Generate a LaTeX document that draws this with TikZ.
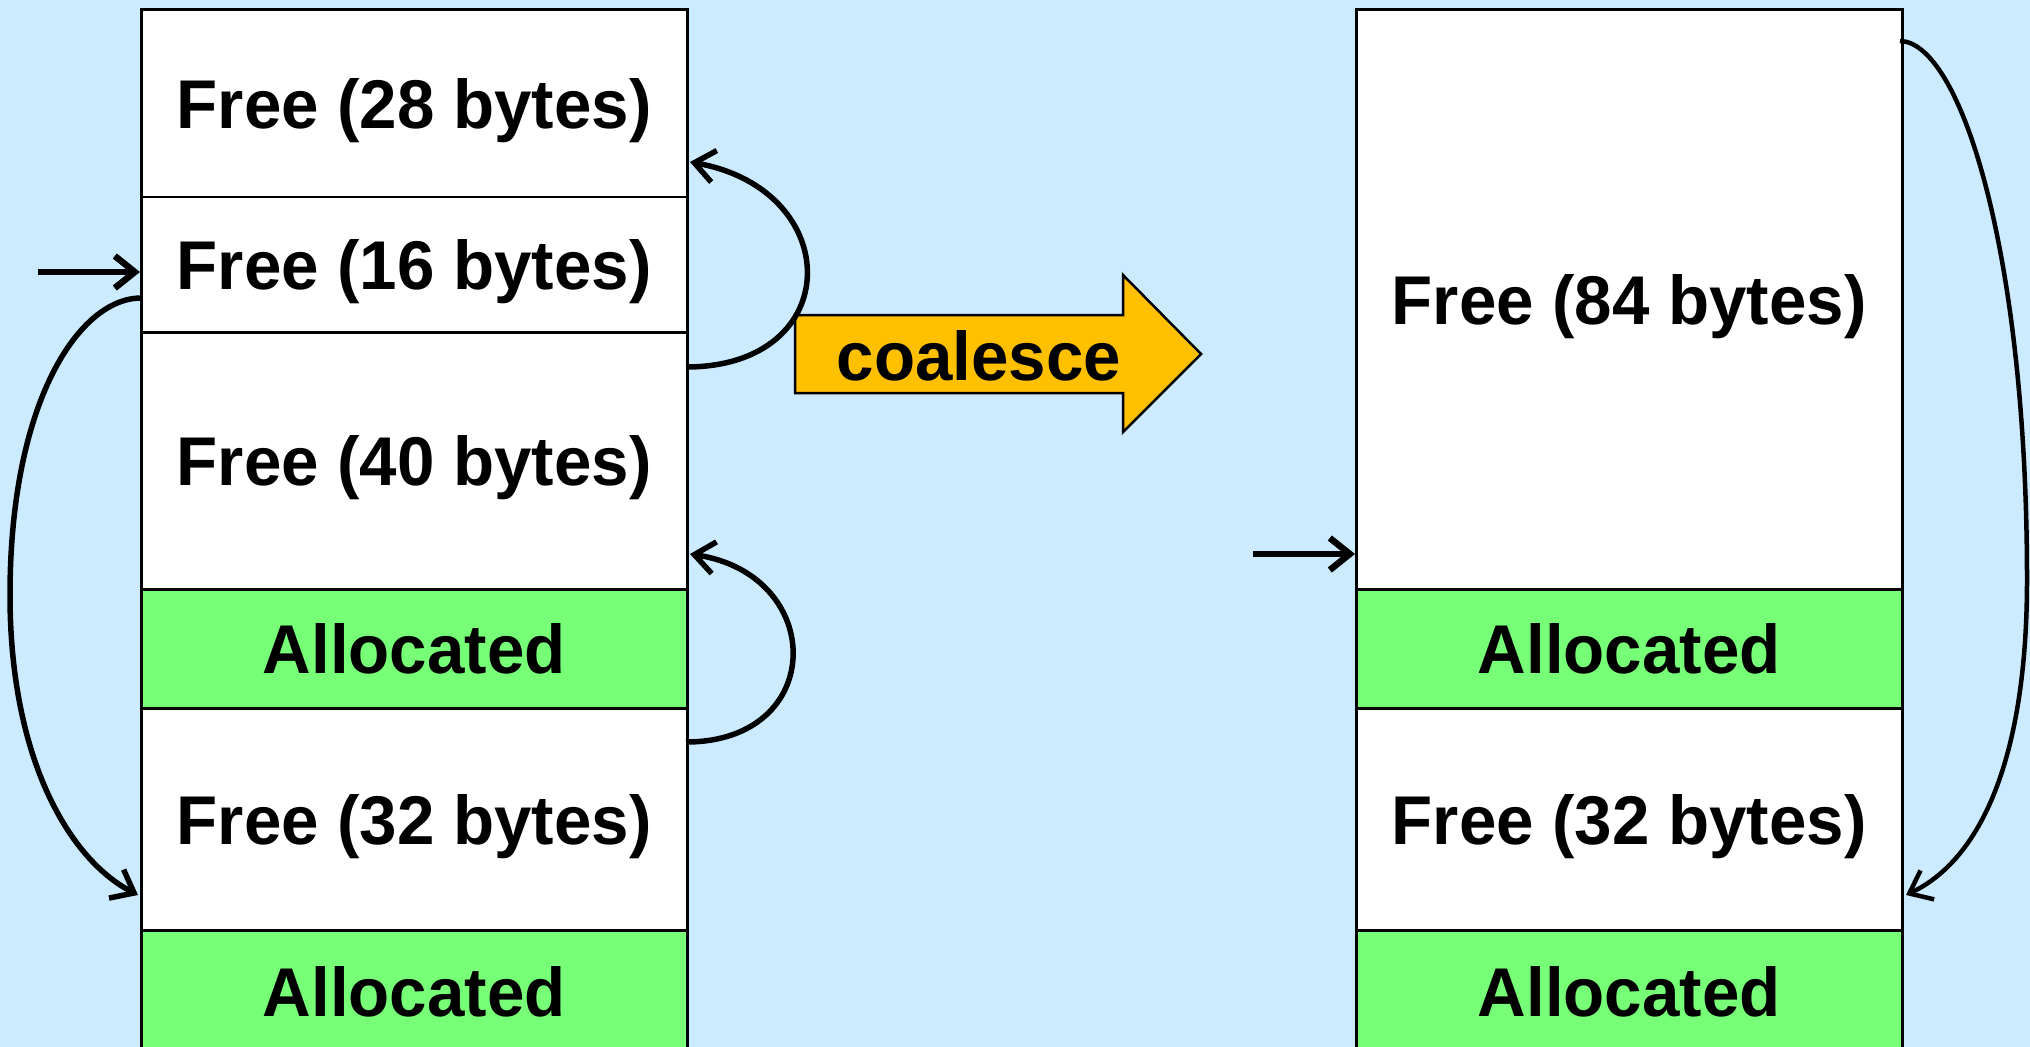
\documentclass[tikz,border=0pt]{standalone}
\usepackage{fontspec}
\setmainfont{Liberation Sans}
\newfontfamily\blockfont{Liberation Sans}[FakeStretch=0.975]
\usetikzlibrary{arrows.meta}
\definecolor{pagebg}{RGB}{204,235,255}
\definecolor{usedgreen}{RGB}{119,255,119}
\definecolor{arrowgold}{RGB}{255,192,0}
\begin{document}
\begin{tikzpicture}[x=1pt,y=-1pt,
  labelfont/.style={font=\blockfont\bfseries\fontsize{69}{80}\selectfont},
  block/.style={draw=black, line width=2.5pt, fill=white, inner sep=0pt,
    minimum width=546pt, anchor=north west, labelfont,
    text height=50pt, text depth=0pt},
  usedblock/.style={block, fill=usedgreen},
  link/.style={draw=black, line width=5.5pt,
    -{Straight Barb[length=20pt,width=32pt]}},
  thinlink/.style={link, line width=4.5pt},
  headptr/.style={link, line width=6.5pt}
]
% page and background
\path[use as bounding box] (0,0) rectangle (2030,1047);
\clip (0,0) rectangle (2030,1047);
\fill[pagebg] (0,0) rectangle (2030,1047);

% heap before coalescing
\node[block, minimum height=187.5pt] (f28) at (140,8)     {Free (28 bytes)};
\node[block, minimum height=135.5pt] (f16) at (140,195.5) {Free (16 bytes)};
\node[block, minimum height=257pt]   (f40) at (140,331)   {Free (40 bytes)};
\node[usedblock, minimum height=119pt] (a1) at (140,588)  {Allocated};
\node[block, minimum height=222pt]   (f32) at (140,707)   {Free (32 bytes)};
\node[usedblock, minimum height=122pt] (a2) at (140,929)  {Allocated};

% heap after coalescing
\node[block, minimum height=580pt]   (f84)  at (1355,8)   {Free (84 bytes)};
\node[usedblock, minimum height=119pt] (ra1) at (1355,588) {Allocated};
\node[block, minimum height=222pt]   (rf32) at (1355,707) {Free (32 bytes)};
\node[usedblock, minimum height=122pt] (ra2) at (1355,929) {Allocated};

% coalesce arrow
\draw[line width=2.5pt, fill=arrowgold]
  (795,315) -- (1123,315) -- (1123,275) -- (1201,354) -- (1123,432)
  -- (1123,393) -- (795,393) -- cycle;
\node[labelfont, anchor=base, inner sep=0pt] (coalesce) at (979,380) {coalesce};

% free-list link endpoints
\coordinate (ptrA)   at (38,272);
\coordinate (f16out) at (141,298);
\coordinate (f32in)  at (138,895);
\coordinate (f40out) at (686,367);
\coordinate (f28in)  at (690,162);
\coordinate (f32out) at (686,742);
\coordinate (f40in)  at (690,554);
\coordinate (ptrB)   at (1253,554);
\coordinate (f84out) at (1900,41);
\coordinate (rf32in) at (1906,895);

% free-list links, before
\draw[headptr] (ptrA) -- (f16.west |- ptrA);
\draw[link] (f16out) .. controls (80,298) and (10,400) .. (10,595)
  .. controls (10,760) and (70,860) .. (f32in);
\draw[link] (f40out) .. controls (846,367) and (846,190) .. (f28in);
\draw[link] (f32out) .. controls (827,742) and (827,575) .. (f40in);

% free-list links, after
\draw[headptr] (ptrB) -- (f84.west |- ptrB);
\draw[thinlink] (f84out) .. controls (1960,42) and (2027,250) .. (2027,580)
  .. controls (2027,760) and (1980,860) .. (rf32in);
\end{tikzpicture}
\end{document}
